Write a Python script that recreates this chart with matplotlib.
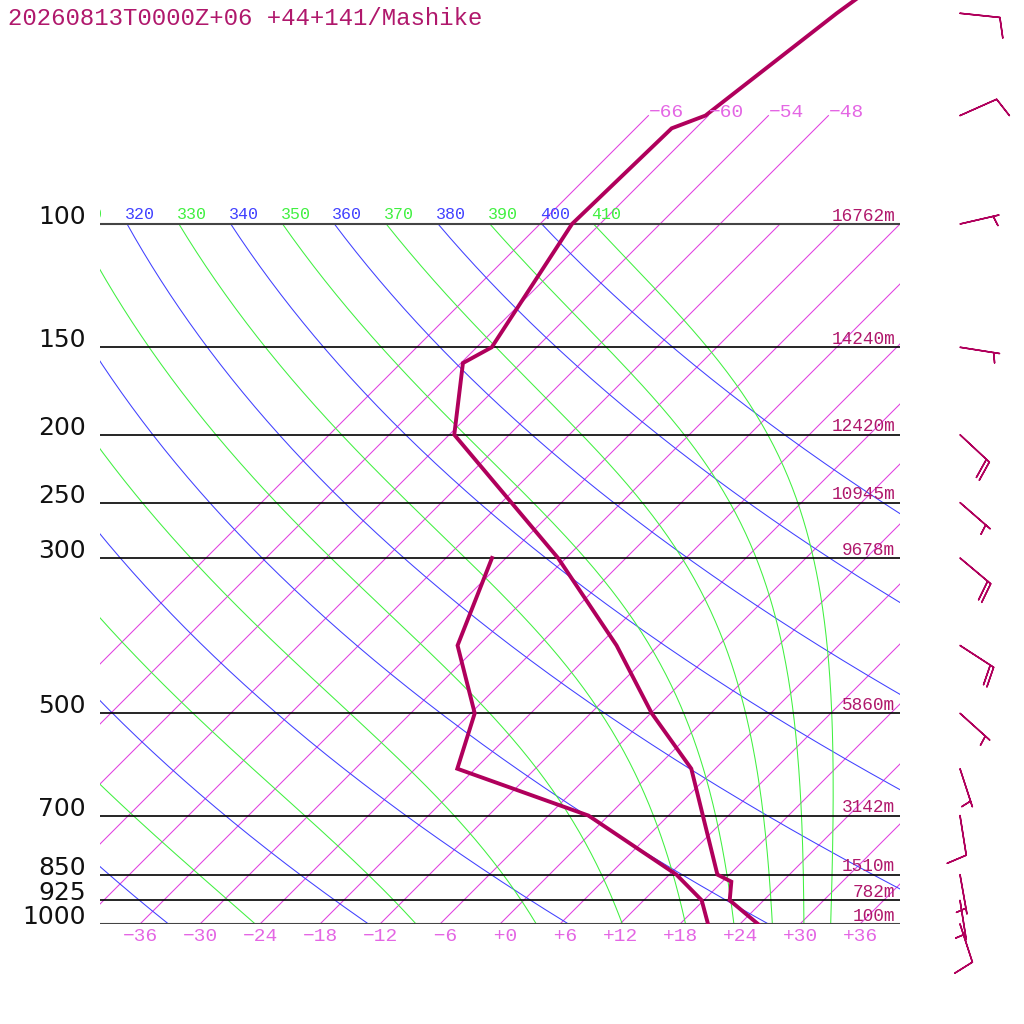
import numpy as np
import matplotlib
matplotlib.use("Agg")
import matplotlib.pyplot as plt

# sounding (hPa, degC)
temp_p = [1000, 925, 870, 850, 600, 500, 400, 300, 200, 158, 150, 100, 73, 70, 50, 30]
temp_c = [25.8, 20.6, 18.9, 16.8, 3.6, -5.9, -16.2, -30.8, -53.5, -59.8, -58.5, -62.8, -62.4, -60.3, -57.4, -51.6]
dewp_p = [1000, 925, 850, 700, 600, 500, 400, 300]
dewp_c = [20.8, 17.8, 12.7, -2.0, -19.8, -23.6, -32.1, -37.4]

# winds (direction deg, speed)
wind_p = [50, 70, 100, 150, 200, 250, 300, 400, 500, 600, 700, 850, 925, 1000]
wind_dir = [96, 66, 77, 99, 133, 131, 130, 123, 132, 162, 171, 170, 171, 162]
wind_spd = [10, 10, 5, 5, 20, 5, 20, 20, 5, 5, 10, 5, 5, 10]

# standard levels and their heights
level_p = [1000, 925, 850, 700, 500, 300, 250, 200, 150, 100]
level_hgt = [100, 782, 1510, 3142, 5860, 9678, 10945, 12420, 14240, 16762]

# background lines
isotherms = list(range(-66, 37, 6))
dry_thetas = list(range(240, 401, 20))
moist_thetas = list(range(250, 411, 20))

title = "20260813T0000Z+06 +44+141/Mashike"

SKEW = 70.0
P_TOP = 1000.0 / 10 ** (924 / 700)
KAPPA = 287.04 / 1005.7

c_prof = "#b0005c"
c_text = "#b0186c"
c_iso = "#e040e0"
c_iso_lab = "#e466e4"
c_dry = "#4040ff"
c_moist = "#40f040"


def skew_x(t, p):
    return np.asarray(t, float) + SKEW * np.log10(1000.0 / np.asarray(p, float))


def moist_adiabat(theta_e, p):
    # integrate downward from the top, where the parcel is nearly dry
    rd, cp, lv, eps = 287.04, 1005.7, 2.501e6, 0.622

    def rate(t, pr):
        es = 6.112 * np.exp(17.67 * (t - 273.15) / (t - 29.65))
        rs = eps * es / (pr - es)
        return (rd * t + lv * rs) / (pr * (cp + lv * lv * rs * eps / (rd * t * t)))

    t = theta_e * (p[0] / 1000.0) ** KAPPA
    out = [t]
    for p0, p1 in zip(p[:-1], p[1:]):
        h = p1 - p0
        k1 = rate(t, p0)
        k2 = rate(t + h / 2 * k1, p0 + h / 2)
        k3 = rate(t + h / 2 * k2, p0 + h / 2)
        k4 = rate(t + h * k3, p1)
        t = t + h / 6 * (k1 + 2 * k2 + 2 * k3 + k4)
        out.append(t)
    return np.array(out) - 273.15


fig = plt.figure(figsize=(10.24, 10.24), dpi=100)
ax = fig.add_axes([100 / 1024, 100 / 1024, 800 / 1024, 924 / 1024])
ax.set_yscale("log")
ax.set_xlim(-40, 40)
ax.set_ylim(1000, P_TOP)
ax.axis("off")

mono = ["Liberation Mono", "DejaVu Sans Mono"]
thin = dict(lw=0.75)

# isotherms
for t in isotherms:
    top = 70 if t <= -48 else 100
    pp = np.array([1000, top])
    ax.plot(skew_x([t, t], pp), pp, color=c_iso, **thin)
    if -40 < t < 40:
        ax.annotate(f"{t:+3d}".replace("-", "\u2212"), (skew_x(t, 1000), 1000),
                    xytext=(0, -3), textcoords="offset points", ha="center", va="top",
                    color=c_iso_lab, fontsize=14, family=mono, annotation_clip=False)
    if top == 70:
        ax.annotate(f"{t:+d}".replace("-", "\u2212"), (skew_x(t, 70), 70),
                    xytext=(0.5, -1), textcoords="offset points", ha="left", va="baseline",
                    color=c_iso_lab, fontsize=14, family=mono, annotation_clip=False)

pgrid = np.geomspace(100, 1000, 200)


def theta_label(th, x_top, color):
    # only labels that reach into the frame; the frame clips the rest
    if x_top < -43.5:
        return
    ax.annotate(str(th), (x_top, 100), xytext=(-1.5, 3.5),
                textcoords="offset points", ha="left", va="baseline",
                color=color, fontsize=12, family=mono, clip_on=True,
                annotation_clip=False)


# dry adiabats
for th in dry_thetas:
    tt = th * (pgrid / 1000.0) ** KAPPA - 273.15
    ax.plot(skew_x(tt, pgrid), pgrid, color=c_dry, **thin)
    theta_label(th, skew_x(tt[0], 100), c_dry)

# moist (pseudo) adiabats labelled by theta-e
for th in moist_thetas:
    tt = moist_adiabat(th, pgrid)
    ax.plot(skew_x(tt, pgrid), pgrid, color=c_moist, **thin)
    theta_label(th, skew_x(tt[0], 100), c_moist)

# pressure levels
for p, z in zip(level_p, level_hgt):
    edge = p in (1000, 100)
    ax.plot([-40, 40], [p, p], color="#444444" if edge else "black",
            lw=1.5 if edge else 1.2)
    ax.annotate(str(p), (-40, p), xytext=(-10, 0), textcoords="offset points",
                ha="right", va="baseline", fontsize=18, family="DejaVu Sans",
                color="#111111", annotation_clip=False)
    ax.annotate(f"{z}m", (40, p), xytext=(-3.5, 2.5), textcoords="offset points",
                ha="right", va="baseline", fontsize=12.8, family=mono,
                color=c_text, annotation_clip=False)

# temperature and dewpoint
ax.plot(skew_x(temp_c, temp_p), temp_p, color=c_prof, lw=2.8, solid_joinstyle="miter")
ax.plot(skew_x(dewp_c, dewp_p), dewp_p, color=c_prof, lw=2.8, solid_joinstyle="miter")

fig.text(8 / 1024, 1 - 25 / 1024, title, color=c_text, fontsize=17.3,
         family=mono, ha="left", va="baseline")

# wind barbs
axw = fig.add_axes([930 / 1024, 100 / 1024, 94 / 1024, 924 / 1024])
axw.set_yscale("log")
axw.set_xlim(0, 94)
axw.set_ylim(1000, P_TOP)
axw.axis("off")
rad = np.deg2rad(wind_dir)
u = -np.array(wind_spd) * np.sin(rad)
v = -np.array(wind_spd) * np.cos(rad)
axw.barbs(np.full(len(wind_p), 30.0), wind_p, u, v, length=7.6,
          sizes=dict(spacing=0.1, height=0.5, width=0.25),
          color=c_prof, linewidth=1.1, clip_on=False)

fig.savefig("out.png", dpi=100)
